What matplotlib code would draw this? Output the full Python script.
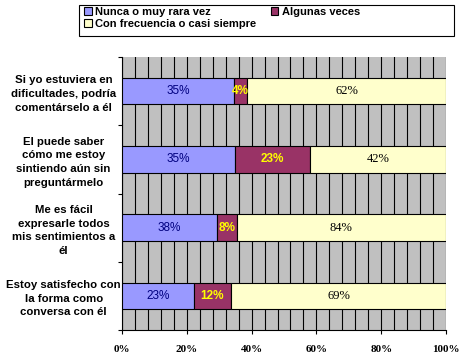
import matplotlib
matplotlib.use('Agg')

import numpy as np
import matplotlib.pyplot as plt
from matplotlib.patches import Patch, Rectangle
from matplotlib.ticker import MultipleLocator, FixedLocator

# Data #
categories = ['Si yo estuviera en\ndificultades, podría\ncomentárselo a él',
              'El puede saber\ncómo me estoy\nsintiendo aún sin\npreguntármelo',
              'Me es fácil\nexpresarle todos\nmis sentimientos a\nél',
              'Estoy satisfecho con\nla forma como\nconversa con él']
series_names = ['Nunca o muy rara vez', 'Algunas veces', 'Con frecuencia o casi siempre']
nunca = [35, 35, 38, 23]
algunas = [4, 23, 8, 12]
frecuencia = [62, 42, 84, 69]
x_ticks = [0, 20, 40, 60, 80, 100]

colors = ['#9999FF', '#993366', '#FFFFCC']
label_colors = ['#000080', '#FFFF00', '#000000']

values = np.array([nunca, algunas, frecuencia], dtype=float)
shares = values / values.sum(axis=0) * 100  # 100% stacked.

figure = plt.figure(figsize=(4.62, 3.55), dpi=100)
axis = figure.add_axes([122 / 462, 1 - 330 / 355, (446 - 122) / 462, (330 - 57) / 355])
axis.set_facecolor('#C0C0C0')

y = np.arange(len(categories))[::-1]
left = np.zeros(len(categories))
for i in range(3):
    bars = axis.barh(y, shares[i], left=left, height=0.39, color=colors[i], edgecolor='black', linewidth=0.8, zorder=3)
    for j, bar in enumerate(bars):
        cx = left[j] + shares[i][j] / 2
        if i == 1:
            axis.text(cx, y[j], '%d%%' % values[i][j], ha='center', va='center', color=label_colors[i],
                      fontsize=8.5, fontweight='bold', family='Liberation Sans', zorder=4)
        elif i == 0:
            axis.text(cx, y[j], '%d%%' % values[i][j], ha='center', va='center', color=label_colors[i],
                      fontsize=8.5, family='Liberation Sans', zorder=4)
        else:
            axis.text(cx, y[j], '%d%%' % values[i][j], ha='center', va='center', color=label_colors[i],
                      fontsize=9, family='Liberation Serif', zorder=4)
    left += shares[i]

axis.set_xlim(0, 100)
axis.set_ylim(-0.5, len(categories) - 0.5)
axis.xaxis.set_major_locator(FixedLocator(x_ticks))
axis.xaxis.set_minor_locator(MultipleLocator(4))
axis.set_xticklabels(['%d%%' % t for t in x_ticks], family='Liberation Serif', fontweight='bold', fontsize=8)
axis.grid(True, which='both', axis='x', color='black', linewidth=0.8, zorder=1)
axis.set_axisbelow(True)
axis.tick_params(axis='x', which='major', direction='out', length=3, width=0.8, pad=8)
axis.tick_params(axis='x', which='minor', length=0)

axis.yaxis.set_major_locator(FixedLocator(y))
axis.yaxis.set_minor_locator(FixedLocator(np.arange(-0.5, len(categories), 1)))
axis.set_yticklabels(categories, family='Liberation Sans', fontweight='bold', fontsize=8.2,
                     ha='center', linespacing=1.45)
axis.tick_params(axis='y', which='major', length=0, pad=42)
axis.tick_params(axis='y', which='minor', direction='out', length=3, width=0.8)

for side in ['top', 'right']:
    axis.spines[side].set_visible(False)
axis.spines['left'].set_linewidth(0.8)
axis.spines['bottom'].set_linewidth(0.8)

# Legend box drawn separately; legend is filled column by column #
figure.patches.append(Rectangle((79 / 462, 1 - 36 / 355), (454 - 79) / 462, 31 / 355, transform=figure.transFigure,
                                facecolor='white', edgecolor='black', linewidth=0.8))
order = [0, 2, 1]
handles = [Patch(facecolor=colors[i], edgecolor='black', linewidth=0.8, label=series_names[i]) for i in order]
legend = figure.legend(handles=handles, ncol=2, loc='upper left', bbox_to_anchor=(84 / 462, 1 - 7 / 355),
                       prop={'family': 'Liberation Sans', 'weight': 'bold', 'size': 8},
                       frameon=False, borderpad=0, handlelength=0.7, handleheight=0.7,
                       handletextpad=0.3, labelspacing=0.15, borderaxespad=0, columnspacing=1.3)

plt.savefig('out.png', dpi=100)
